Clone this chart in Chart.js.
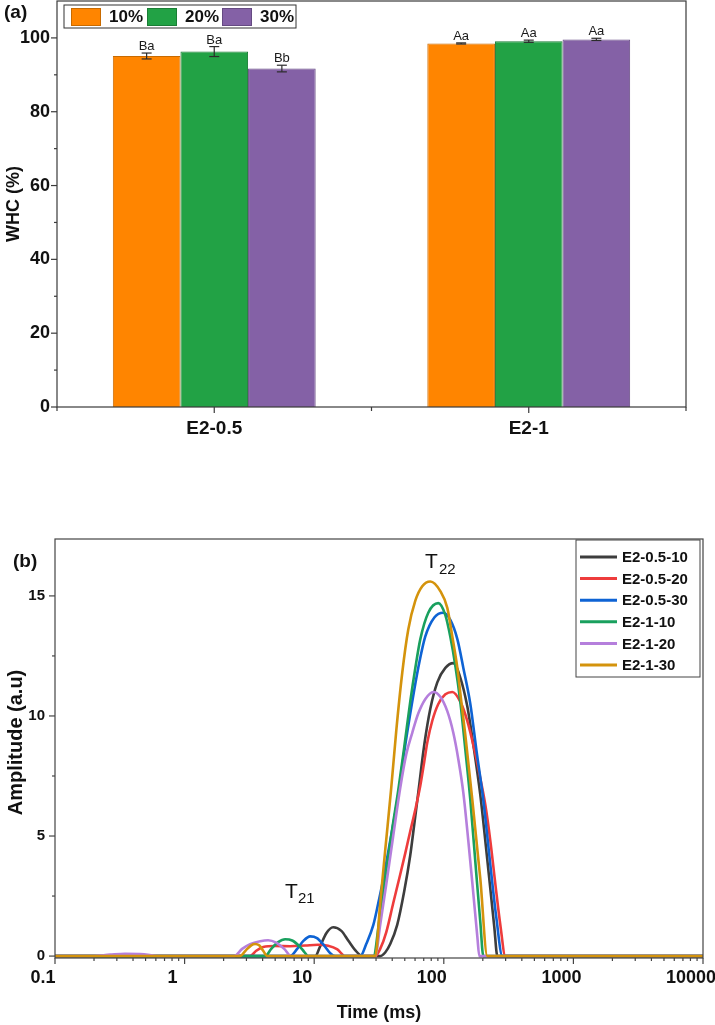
<!DOCTYPE html>
<html>
<head>
<meta charset="utf-8">
<script src="https://cdn.jsdelivr.net/npm/chart.js@4.4.1/dist/chart.umd.min.js"></script>
<style>
  html, body { margin: 0; padding: 0; background: #fff; }
  #page { position: relative; width: 715px; height: 1025px; overflow: hidden; }
  #barCanvas { position: absolute; left: 0; top: 0; }
  #lineCanvas { position: absolute; left: 0; top: 480px; }
</style>
</head>
<body>
<div id="page">
  <canvas id="barCanvas" width="715" height="480"></canvas>
  <canvas id="lineCanvas" width="715" height="545"></canvas>
</div>
<script>
const FONT = "'Liberation Sans', Arial, Helvetica, sans-serif";

// (a) water holding capacity
const groups = ['E2-0.5', 'E2-1'];
const concLabels = ['10%', '20%', '30%'];
const concColors = ['#FF8500', '#22A245', '#8461A6'];
const concEdges = ['#C86A00', '#1A7D35', '#654A82'];
const whc10 = [95.1, 98.5];
const whc20 = [96.3, 99.1];
const whc30 = [91.7, 99.6];
const err10 = [0.8, 0.15];
const err20 = [1.35, 0.3];
const err30 = [0.9, 0.3];
const sig10 = ['Ba', 'Aa'];
const sig20 = ['Ba', 'Aa'];
const sig30 = ['Bb', 'Aa'];
const whcMajor = [0, 20, 40, 60, 80, 100];
const whcMinor = [10, 30, 50, 70, 90];

// (b) T2 relaxation curves, time in ms
const seriesNames = ['E2-0.5-10', 'E2-0.5-20', 'E2-0.5-30', 'E2-1-10', 'E2-1-20', 'E2-1-30'];
const seriesColors = ['#3D3D3D', '#EE3C3C', '#0E63D4', '#19A05E', '#B57FDC', '#D4930C'];

const tBlack = [0.1, 10.2, 11.1, 12.4, 14.0, 16.2, 18.3, 20.7, 23.5, 32.3, 35.3, 38.6, 43.7, 49.5, 55.1, 59.2, 63.5, 70.7, 78.7, 89.1, 102.8, 118.4, 134.0, 151.8, 169.0, 191.4, 209.1, 228.6, 245.4, 258.9, 10000];
const aBlack = [0, 0, 0.4, 0.95, 1.2, 1.05, 0.65, 0.25, 0, 0, 0.15, 0.5, 1.3, 2.7, 4.2, 5.5, 6.8, 8.8, 10.3, 11.4, 12.0, 12.2, 11.6, 10.4, 8.8, 6.7, 4.8, 2.8, 1.2, 0, 0];

const tRed = [0.1, 3.20, 3.57, 4.04, 5.00, 6.53, 8.53, 10.7, 12.8, 15.1, 17.3, 29.6, 32.3, 36.0, 40.7, 46.1, 50.5, 55.1, 60.3, 65.9, 70.7, 74.6, 81.5, 90.7, 102.8, 116.4, 134.0, 151.8, 172.1, 191.4, 209.1, 228.6, 249.9, 273.0, 298.5, 10000];
const aRed = [0, 0, 0.22, 0.38, 0.42, 0.41, 0.44, 0.47, 0.43, 0.28, 0, 0, 0.3, 1.0, 2.2, 3.4, 4.3, 5.2, 6.1, 7.1, 8.1, 8.9, 9.8, 10.5, 10.9, 11.0, 10.6, 9.8, 8.6, 7.4, 6.3, 4.8, 3.0, 1.3, 0, 0];

const tBlue = [0.1, 6.53, 7.39, 8.22, 9.31, 10.5, 11.9, 13.3, 14.5, 22.7, 25.2, 28.6, 31.2, 34.1, 38.6, 44.5, 49.5, 57.1, 63.5, 71.9, 84.5, 99.1, 112.3, 127.2, 141.5, 160.2, 178.3, 201.8, 228.6, 254.3, 283.1, 10000];
const aBlue = [0, 0, 0.3, 0.62, 0.82, 0.75, 0.45, 0.12, 0, 0, 0.5, 1.3, 2.2, 3.2, 4.8, 6.7, 8.5, 10.6, 12.0, 13.3, 14.1, 14.3, 14.0, 13.2, 12.0, 10.5, 8.6, 6.5, 3.8, 1.6, 0, 0];

const tGreen = [0.1, 4.19, 4.66, 5.27, 5.97, 6.76, 7.66, 8.37, 8.99, 28.6, 32.3, 36.0, 40.0, 44.5, 49.5, 55.1, 60.3, 65.9, 75.9, 90.7, 102.8, 112.3, 122.7, 134.0, 146.6, 160.2, 178.3, 191.4, 201.8, 10000];
const aGreen = [0, 0, 0.3, 0.58, 0.7, 0.65, 0.42, 0.18, 0, 0, 1.8, 3.6, 5.3, 6.9, 8.7, 10.6, 12.0, 13.2, 14.3, 14.7, 14.2, 13.3, 12.1, 10.6, 8.6, 6.5, 3.4, 1.4, 0, 0];

const tPurple = [0.1, 0.193, 0.266, 0.347, 0.453, 0.561, 0.624, 2.41, 2.78, 3.20, 3.83, 4.41, 5.09, 5.87, 6.64, 29.6, 32.3, 36.0, 40.7, 46.1, 51.3, 57.1, 63.5, 71.9, 83.0, 94.0, 106.4, 118.4, 129.4, 141.5, 154.6, 169.0, 181.5, 188.0, 10000];
const aPurple = [0, 0, 0.06, 0.1, 0.08, 0.03, 0, 0, 0.3, 0.5, 0.62, 0.66, 0.56, 0.3, 0, 0, 1.3, 3.0, 5.0, 7.0, 8.4, 9.3, 10.1, 10.7, 11.0, 10.8, 10.2, 9.3, 8.2, 6.8, 4.8, 2.6, 0.8, 0, 0];

const tOrange = [0.1, 2.68, 2.98, 3.27, 3.50, 3.76, 4.04, 4.34, 29.6, 32.3, 35.3, 39.3, 43.0, 47.8, 53.2, 60.3, 68.2, 78.7, 94.0, 106.4, 116.4, 127.2, 136.5, 146.6, 166.0, 191.4, 216.6, 10000];
const aOrange = [0, 0, 0.25, 0.45, 0.5, 0.45, 0.22, 0, 0, 2.2, 4.4, 7.0, 9.4, 11.8, 13.6, 14.8, 15.4, 15.6, 15.2, 14.5, 13.3, 12.0, 10.6, 9.2, 6.5, 3.2, 0, 0];

const ampMajor = [0, 5, 10, 15];
const ampMinor = [2.5, 7.5, 12.5];
const timeDecades = [0.1, 1, 10, 100, 1000, 10000];
const timeTickLabels = ['0.1', '1', '10', '100', '1000', '10000'];

function seg(ctx, x1, y1, x2, y2) {
  ctx.beginPath();
  ctx.moveTo(x1, y1);
  ctx.lineTo(x2, y2);
  ctx.stroke();
}

function boldFont(size) { return 'bold ' + size + 'px ' + FONT; }

// keep the plot box where it is: no extra room for overhanging labels
function noOverhang(s) {
  s.paddingLeft = 0;
  s.paddingRight = 0;
  s.paddingTop = 0;
  s.paddingBottom = 0;
}

// error bars, letters, frame, ticks, legend and titles for (a)
const barDecor = {
  id: 'barDecor',
  afterDatasetsDraw(chart) {
    const ctx = chart.ctx, y = chart.scales.y;
    ctx.save();
    chart.data.datasets.forEach((ds, di) => {
      chart.getDatasetMeta(di).data.forEach((bar, i) => {
        const top = y.getPixelForValue(ds.data[i] + ds.errors[i]);
        const bot = y.getPixelForValue(ds.data[i] - ds.errors[i]);
        ctx.strokeStyle = '#2b2b2b';
        ctx.lineWidth = 1.2;
        seg(ctx, bar.x, top, bar.x, bot);
        seg(ctx, bar.x - 5, top, bar.x + 5, top);
        seg(ctx, bar.x - 5, bot, bar.x + 5, bot);
        ctx.fillStyle = '#1a1a1a';
        ctx.font = '13px ' + FONT;
        ctx.textAlign = 'center';
        ctx.textBaseline = 'alphabetic';
        ctx.fillText(ds.letters[i], bar.x, top - 3);
      });
    });
    ctx.restore();
  },
  afterDraw(chart) {
    const ctx = chart.ctx, a = chart.chartArea, x = chart.scales.x, y = chart.scales.y;
    ctx.save();
    ctx.strokeStyle = '#3a3a3a';
    ctx.lineWidth = 1.2;
    ctx.strokeRect(a.left, a.top, a.right - a.left, a.bottom - a.top);
    whcMajor.forEach(v => { const p = y.getPixelForValue(v); seg(ctx, a.left, p, a.left - 6, p); });
    whcMinor.forEach(v => { const p = y.getPixelForValue(v); seg(ctx, a.left, p, a.left - 3, p); });
    groups.forEach((g, i) => { const p = x.getPixelForTick(i); seg(ctx, p, a.bottom, p, a.bottom + 6); });
    const step = x.getPixelForTick(1) - x.getPixelForTick(0);
    [-0.5, 0.5, 1.5].forEach(k => { const p = x.getPixelForTick(0) + k * step; seg(ctx, p, a.bottom, p, a.bottom + 4); });

    // legend
    ctx.strokeStyle = '#333';
    ctx.lineWidth = 1;
    ctx.strokeRect(64, 5, 232, 23);
    const swX = [71, 147, 222];
    concLabels.forEach((lab, i) => {
      ctx.fillStyle = concColors[i];
      ctx.fillRect(swX[i], 8, 30, 18);
      ctx.strokeStyle = concEdges[i];
      ctx.strokeRect(swX[i] + 0.5, 8.5, 29, 17);
      ctx.fillStyle = '#111';
      ctx.font = boldFont(17);
      ctx.textAlign = 'left';
      ctx.textBaseline = 'middle';
      ctx.fillText(lab, swX[i] + 38, 17.5);
    });

    ctx.fillStyle = '#111';
    ctx.font = boldFont(19);
    ctx.textAlign = 'left';
    ctx.textBaseline = 'middle';
    ctx.fillText('(a)', 4, 13);

    ctx.translate(14, (a.top + a.bottom) / 2);
    ctx.rotate(-Math.PI / 2);
    ctx.textAlign = 'center';
    ctx.font = boldFont(18);
    ctx.fillText('WHC (%)', 0, 0);
    ctx.restore();
  }
};

new Chart(document.getElementById('barCanvas'), {
  type: 'bar',
  data: {
    labels: groups,
    datasets: [
      { label: concLabels[0], data: whc10, errors: err10, letters: sig10, backgroundColor: concColors[0], borderColor: concEdges[0], borderWidth: 1 },
      { label: concLabels[1], data: whc20, errors: err20, letters: sig20, backgroundColor: concColors[1], borderColor: concEdges[1], borderWidth: 1 },
      { label: concLabels[2], data: whc30, errors: err30, letters: sig30, backgroundColor: concColors[2], borderColor: concEdges[2], borderWidth: 1 }
    ]
  },
  options: {
    responsive: false,
    animation: false,
    events: [],
    layout: { padding: { top: 1, right: 29, left: 0, bottom: 0 } },
    datasets: { bar: { categoryPercentage: 0.645, barPercentage: 1 } },
    plugins: { legend: { display: false }, tooltip: { enabled: false } },
    scales: {
      x: {
        grid: { display: false, drawTicks: false, tickLength: 0 },
        border: { display: false },
        ticks: { font: { family: FONT, size: 19, weight: 'bold' }, color: '#111', padding: 10, maxRotation: 0 },
        afterFit: s => { s.height = 73; noOverhang(s); }
      },
      y: {
        min: 0,
        max: 110,
        grid: { display: false, drawTicks: false, tickLength: 0 },
        border: { display: false },
        afterBuildTicks: s => { s.ticks = whcMajor.concat(whcMinor).sort((p, q) => p - q).map(v => ({ value: v })); },
        ticks: {
          font: { family: FONT, size: 18, weight: 'bold' }, color: '#111', padding: 7,
          callback: v => whcMajor.includes(v) ? String(v) : ''
        },
        afterFit: s => { s.width = 57; noOverhang(s); }
      }
    }
  },
  plugins: [barDecor]
});

// (b)
const seriesTimes = [tBlack, tRed, tBlue, tGreen, tPurple, tOrange];
const seriesAmps = [aBlack, aRed, aBlue, aGreen, aPurple, aOrange];

const timeMinor = [];
timeDecades.slice(0, -1).forEach(d => { for (let k = 2; k <= 9; k++) timeMinor.push(d * k); });

const lineDecor = {
  id: 'lineDecor',
  afterDraw(chart) {
    const ctx = chart.ctx, a = chart.chartArea, x = chart.scales.x, y = chart.scales.y;
    ctx.save();
    ctx.strokeStyle = '#444';
    ctx.lineWidth = 1.2;
    ctx.strokeRect(a.left, a.top, a.right - a.left, a.bottom - a.top);
    ampMajor.forEach(v => { const p = y.getPixelForValue(v); seg(ctx, a.left, p, a.left - 6, p); });
    ampMinor.forEach(v => { const p = y.getPixelForValue(v); seg(ctx, a.left, p, a.left - 3, p); });
    timeDecades.forEach(v => { const p = x.getPixelForValue(v); seg(ctx, p, a.bottom, p, a.bottom + 6); });
    timeMinor.forEach(v => { const p = x.getPixelForValue(v); seg(ctx, p, a.bottom, p, a.bottom + 3); });

    // legend box
    ctx.strokeStyle = '#444';
    ctx.lineWidth = 1;
    ctx.strokeRect(576, 60, 124, 137);
    seriesNames.forEach((name, i) => {
      const ry = 77 + i * 21.6;
      ctx.strokeStyle = seriesColors[i];
      ctx.lineWidth = 3;
      seg(ctx, 580, ry, 617, ry);
      ctx.fillStyle = '#111';
      ctx.font = boldFont(15);
      ctx.textAlign = 'left';
      ctx.textBaseline = 'middle';
      ctx.fillText(name, 622, ry + 1);
    });

    ctx.fillStyle = '#111';
    ctx.font = boldFont(19);
    ctx.textAlign = 'left';
    ctx.textBaseline = 'middle';
    ctx.fillText('(b)', 13, 82);

    // peak labels
    ctx.textBaseline = 'alphabetic';
    ctx.font = '21px ' + FONT;
    ctx.fillText('T', 425, 88);
    ctx.fillText('T', 285, 418);
    ctx.font = '15px ' + FONT;
    ctx.fillText('22', 439, 94);
    ctx.fillText('21', 298, 423);

    ctx.font = boldFont(18);
    ctx.textAlign = 'center';
    ctx.textBaseline = 'middle';
    ctx.fillText('Time (ms)', (a.left + a.right) / 2, 533);

    ctx.translate(16, (a.top + a.bottom) / 2 - 6);
    ctx.rotate(-Math.PI / 2);
    ctx.font = boldFont(20);
    ctx.fillText('Amplitude (a.u)', 0, 0);
    ctx.restore();
  }
};

new Chart(document.getElementById('lineCanvas'), {
  type: 'line',
  data: {
    datasets: seriesNames.map((name, i) => ({
      label: name,
      data: seriesTimes[i].map((t, j) => ({ x: t, y: seriesAmps[i][j] })),
      borderColor: seriesColors[i],
      borderWidth: 2.6,
      pointRadius: 0,
      fill: false,
      cubicInterpolationMode: 'monotone',
      order: seriesNames.length - 1 - i
    }))
  },
  options: {
    responsive: false,
    animation: false,
    events: [],
    layout: { padding: { top: 59, right: 12, left: 0, bottom: 0 } },
    plugins: { legend: { display: false }, tooltip: { enabled: false } },
    scales: {
      x: {
        type: 'logarithmic',
        min: 0.1,
        max: 10000,
        grid: { display: false, drawTicks: false, tickLength: 0 },
        border: { display: false },
        afterBuildTicks: s => {
          s.ticks = timeDecades.concat(timeMinor).sort((p, q) => p - q).map(v => ({ value: v, major: timeDecades.includes(v) }));
        },
        ticks: {
          autoSkip: false, maxRotation: 0, padding: 9, labelOffset: -12,
          font: { family: FONT, size: 18, weight: 'bold' }, color: '#111',
          callback: v => { const k = timeDecades.indexOf(v); return k >= 0 ? timeTickLabels[k] : ''; }
        },
        afterFit: s => { s.height = 67; noOverhang(s); }
      },
      y: {
        min: -0.08,
        max: 17.37,
        grid: { display: false, drawTicks: false, tickLength: 0 },
        border: { display: false },
        afterBuildTicks: s => { s.ticks = ampMajor.concat(ampMinor).sort((p, q) => p - q).map(v => ({ value: v })); },
        ticks: {
          font: { family: FONT, size: 15, weight: 'bold' }, color: '#111', padding: 10,
          callback: v => ampMajor.includes(v) ? String(v) : ''
        },
        afterFit: s => { s.width = 55; noOverhang(s); }
      }
    }
  },
  plugins: [lineDecor]
});
</script>
</body>
</html>
